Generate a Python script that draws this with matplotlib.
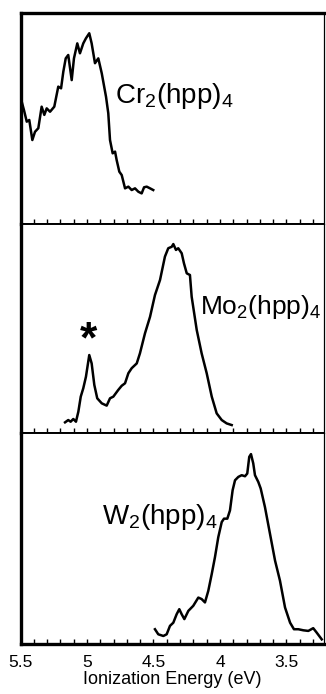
import matplotlib
matplotlib.use("Agg")
import matplotlib.pyplot as plt
from matplotlib.ticker import MultipleLocator

plt.rcParams['font.family'] = ['Liberation Sans', 'DejaVu Sans']
plt.rcParams['mathtext.default'] = 'regular'

# Ionization energy (eV) and relative intensity (panel fraction)
cr_energy = [5.491, 5.474, 5.453, 5.434, 5.411, 5.391, 5.366, 5.341, 5.321, 5.303,
             5.278, 5.246, 5.216, 5.195, 5.178, 5.160, 5.141, 5.115, 5.098, 5.073,
             5.053, 5.028, 5.008, 4.983, 4.965, 4.940, 4.915, 4.889, 4.857, 4.840,
             4.827, 4.807, 4.789, 4.777, 4.757, 4.739, 4.714, 4.689, 4.664, 4.639,
             4.614, 4.589, 4.571, 4.551, 4.526, 4.502]
cr_intensity = [0.580, 0.540, 0.485, 0.493, 0.398, 0.437, 0.454, 0.556, 0.517, 0.548,
                0.532, 0.556, 0.651, 0.643, 0.722, 0.785, 0.801, 0.682, 0.785, 0.856,
                0.809, 0.856, 0.880, 0.904, 0.856, 0.762, 0.785, 0.714, 0.603, 0.525,
                0.398, 0.335, 0.343, 0.303, 0.248, 0.232, 0.169, 0.177, 0.161, 0.169,
                0.153, 0.145, 0.174, 0.177, 0.169, 0.161]

mo_energy = [5.165, 5.141, 5.123, 5.103, 5.083, 5.065, 5.047, 5.028, 5.008, 4.983,
             4.965, 4.945, 4.923, 4.889, 4.852, 4.827, 4.802, 4.765, 4.739, 4.714,
             4.689, 4.664, 4.626, 4.602, 4.564, 4.526, 4.489, 4.451, 4.414, 4.389,
             4.363, 4.351, 4.331, 4.314, 4.288, 4.271, 4.250, 4.226, 4.213, 4.175,
             4.138, 4.100, 4.062, 4.025, 3.987, 3.950, 3.912]
mo_intensity = [0.051, 0.062, 0.054, 0.067, 0.054, 0.102, 0.174, 0.214, 0.269, 0.373,
                0.333, 0.230, 0.166, 0.142, 0.131, 0.166, 0.174, 0.206, 0.226, 0.238,
                0.286, 0.310, 0.333, 0.381, 0.477, 0.556, 0.660, 0.732, 0.844, 0.884,
                0.891, 0.904, 0.876, 0.884, 0.860, 0.812, 0.764, 0.756, 0.652, 0.493,
                0.381, 0.286, 0.174, 0.094, 0.062, 0.046, 0.038]

w_energy = [4.489, 4.464, 4.426, 4.401, 4.376, 4.351, 4.326, 4.306, 4.288, 4.268,
            4.238, 4.201, 4.163, 4.138, 4.113, 4.088, 4.062, 4.038, 4.013, 3.987,
            3.970, 3.945, 3.925, 3.905, 3.887, 3.862, 3.837, 3.812, 3.795, 3.780,
            3.767, 3.750, 3.737, 3.712, 3.694, 3.662, 3.624, 3.586, 3.549, 3.511,
            3.473, 3.444, 3.411, 3.374, 3.336, 3.299, 3.273, 3.235]
w_intensity = [0.070, 0.046, 0.038, 0.046, 0.086, 0.101, 0.141, 0.165, 0.141, 0.118,
               0.157, 0.181, 0.220, 0.213, 0.197, 0.252, 0.332, 0.411, 0.506, 0.578,
               0.594, 0.594, 0.633, 0.729, 0.776, 0.792, 0.800, 0.795, 0.808, 0.887,
               0.900, 0.856, 0.800, 0.768, 0.737, 0.649, 0.522, 0.395, 0.300, 0.173,
               0.101, 0.070, 0.070, 0.065, 0.062, 0.075, 0.054, 0.022]

labels = ['Cr$_2$(hpp)$_4$', 'Mo$_2$(hpp)$_4$', 'W$_2$(hpp)$_4$']
label_pos = [(4.789, 0.572), (4.152, 0.568), (4.889, 0.567)]
label_sizes = [20, 19, 20]
major_ticks = [5.5, 5, 4.5, 4, 3.5]
tick_labels = ['5.5', '5', '4.5', '4', '3.5']

fig = plt.figure(figsize=(3.26, 6.94), dpi=100)
left, width = 20.5 / 326, (324 - 20.5) / 326
bounds = [(694 - 224) / 694, (694 - 433) / 694, (694 - 644) / 694, (694 - 13) / 694]
tops = [bounds[3], bounds[0], bounds[1]]
bots = [bounds[0], bounds[1], bounds[2]]

series = [(cr_energy, cr_intensity), (mo_energy, mo_intensity), (w_energy, w_intensity)]
for i, ((xe, yi), lab, lp, fs) in enumerate(zip(series, labels, label_pos, label_sizes)):
    ax = fig.add_axes([left, bots[i], width, tops[i] - bots[i]])
    ax.plot(xe, yi, color='black', lw=1.8)
    ax.set_xlim(5.5, 3.218)
    ax.set_ylim(0, 1)
    ax.spines['left'].set_linewidth(2.4)
    ax.spines['right'].set_linewidth(0.9)
    ax.spines['top'].set_linewidth(2.4 if i == 0 else 1.4)
    ax.spines['bottom'].set_linewidth(2.4 if i == 2 else 1.4)
    ax.set_yticks([])
    ax.set_xticks(major_ticks)
    ax.xaxis.set_minor_locator(MultipleLocator(0.1))
    ax.tick_params(axis='x', which='both', direction='in', length=3.5, width=1.0,
                   bottom=True, top=False)
    if i == 2:
        ax.set_xticklabels(tick_labels, fontsize=12.5)
        ax.tick_params(axis='x', which='major', pad=8)
        ax.set_xlabel('Ionization Energy (eV)', fontsize=13, labelpad=1)
    else:
        ax.set_xticklabels([])
    ax.text(lp[0], lp[1], lab, fontsize=fs, ha='left', va='baseline')
    if i == 1:
        ax.text(4.987, 0.385, '*', fontsize=32, fontweight='bold', ha='center',
                va='baseline')

fig.savefig('out.png', dpi=100)
